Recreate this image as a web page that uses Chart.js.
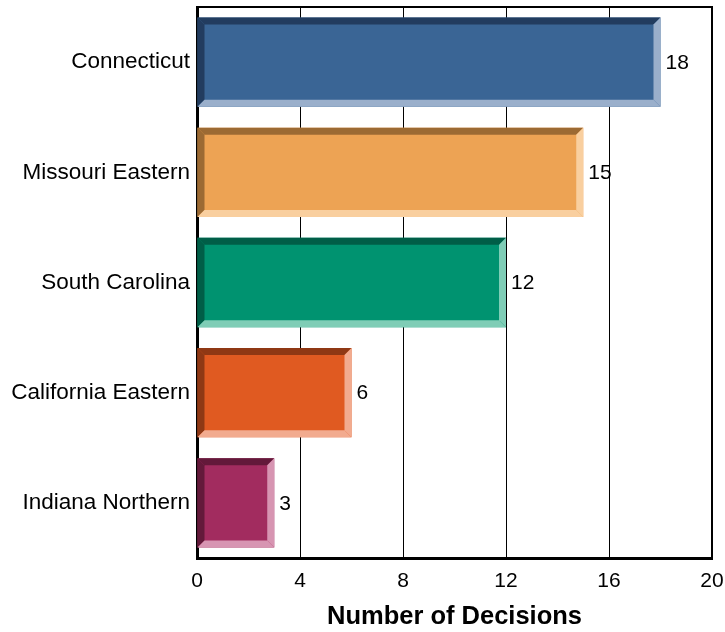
<!DOCTYPE html>
<html>
<head>
<meta charset="utf-8">
<script src="https://cdn.jsdelivr.net/npm/chart.js@4"></script>
<style>
  html, body { margin: 0; padding: 0; background: #fff; }
  #wrap { width: 725px; height: 632px; }
</style>
</head>
<body>
<div id="wrap"><canvas id="chart" width="725" height="632"></canvas></div>
<script>
// ---------------------- DATA ----------------------
const categories = ["Connecticut", "Missouri Eastern", "South Carolina", "California Eastern", "Indiana Northern"];
const decisions = [18, 15, 12, 6, 3];
const xTicks = [0, 4, 8, 12, 16, 20];

// main / dark (top,left) / light (bottom,right) for each bar
const barColors = ["#3a6595", "#eda354", "#009370", "#e05a21", "#a22c5f"];
const darkColors = ["#223c5f", "#9c6a33", "#005e47", "#8f3814", "#63193a"];
const lightColors = ["#9aafcb", "#f9cf9f", "#7fcdb6", "#f2ab8f", "#d795b2"];

const FONT = "'Liberation Sans', Arial, sans-serif";

// ---------------------- BEVEL + VALUE LABELS ----------------------
const bevelPlugin = {
  id: "bevel",
  afterDatasetsDraw(chart) {
    const ctx = chart.ctx;
    const meta = chart.getDatasetMeta(0);
    const b = 7;
    meta.data.forEach((bar, i) => {
      const p = bar.getProps(["x", "y", "base", "height"], true);
      const L = Math.min(p.base, p.x), R = Math.max(p.base, p.x);
      const T = p.y - p.height / 2, B = p.y + p.height / 2;
      const poly = (pts, color) => {
        ctx.beginPath();
        ctx.moveTo(pts[0][0], pts[0][1]);
        pts.slice(1).forEach((q) => ctx.lineTo(q[0], q[1]));
        ctx.closePath();
        ctx.fillStyle = color;
        ctx.fill();
      };
      ctx.save();
      poly([[L, T], [R, T], [R - b, T + b], [L + b, T + b]], darkColors[i]);
      poly([[L, T], [L + b, T + b], [L + b, B - b], [L, B]], darkColors[i]);
      poly([[L, B], [L + b, B - b], [R - b, B - b], [R, B]], lightColors[i]);
      poly([[R, T], [R, B], [R - b, B - b], [R - b, T + b]], lightColors[i]);

      ctx.fillStyle = "#000";
      ctx.font = "21px " + FONT;
      ctx.textAlign = "left";
      ctx.textBaseline = "middle";
      ctx.fillText(String(decisions[i]), R + 5, p.y + 1);
      ctx.restore();
    });

    // top and right frame of the plot area
    const a = chart.chartArea;
    ctx.save();
    ctx.strokeStyle = "#000";
    ctx.lineWidth = 2;
    ctx.beginPath();
    ctx.moveTo(a.left, a.top);
    ctx.lineTo(a.right, a.top);
    ctx.lineTo(a.right, a.bottom);
    ctx.stroke();
    ctx.restore();
  },
};

// ---------------------- CHART ----------------------
new Chart(document.getElementById("chart"), {
  type: "bar",
  data: {
    labels: categories,
    datasets: [
      {
        data: decisions,
        backgroundColor: barColors,
        borderWidth: 0,
        categoryPercentage: 0.81,
        barPercentage: 1,
      },
    ],
  },
  options: {
    indexAxis: "y",
    responsive: false,
    animation: false,
    layout: { padding: { top: 7, right: 13, bottom: 0, left: 0 } },
    plugins: { legend: { display: false }, tooltip: { enabled: false } },
    scales: {
      x: {
        min: 0,
        max: 20,
        afterBuildTicks: (scale) => {
          scale.ticks = xTicks.map((v) => ({ value: v }));
        },
        afterFit: (scale) => {
          scale.height = 74;
          scale.paddingLeft = 0;
          scale.paddingRight = 0;
        },
        grid: { color: "#000", lineWidth: 1, drawTicks: false },
        border: { display: true, color: "#000", width: 3 },
        ticks: { color: "#000", font: { family: FONT, size: 21 }, padding: 11 },
        title: {
          display: true,
          text: "Number of Decisions",
          color: "#000",
          font: { family: FONT, size: 25.5, weight: "bold" },
          padding: { top: 0, bottom: 0 },
        },
      },
      y: {
        afterFit: (scale) => {
          scale.width = 197;
          scale.paddingTop = 0;
          scale.paddingBottom = 0;
        },
        grid: { display: false, drawTicks: false },
        border: { display: true, color: "#000", width: 3 },
        ticks: { color: "#000", font: { family: FONT, size: 22.5 }, padding: 7 },
      },
    },
  },
  plugins: [bevelPlugin],
});
</script>
</body>
</html>
